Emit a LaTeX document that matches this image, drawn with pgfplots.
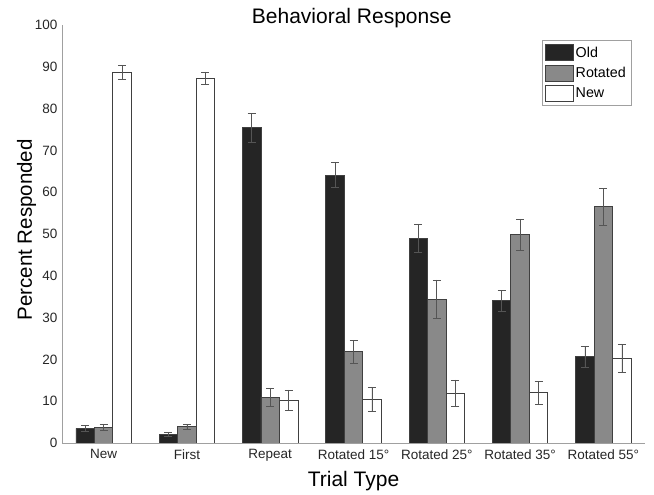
\documentclass[border=0pt]{standalone}
\usepackage{fontspec}
\setmainfont{Liberation Sans}
\usepackage{pgfplots}
\pgfplotsset{compat=1.18}
\definecolor{cold}{HTML}{252525}
\definecolor{crot}{HTML}{898989}
\definecolor{cedge}{HTML}{404040}
\definecolor{cerr}{HTML}{555555}
\definecolor{caxis}{HTML}{A0A0A0}
\begin{document}
\begin{tikzpicture}
\begin{axis}[
  name=ax,
  scale only axis,
  width=583pt, height=418pt,
  xmin=0.5, xmax=7.5, ymin=0, ymax=100,
  axis lines*=left,
  axis line style={caxis, line width=0.8pt},
  xtick={1,...,7},
  xticklabels={New,First,Repeat,Rotated 15°,Rotated 25°,Rotated 35°,Rotated 55°},
  ytick={0,10,...,100},
  major tick length=0pt,
  /pgf/number format/assume math mode=true,
  tick label style={font=\fontsize{13.5}{15}\selectfont, text=black!85},
  xticklabel style={yshift=-3pt},
  yticklabel style={xshift=-1pt},
  xlabel={Trial Type}, ylabel={Percent Responded},
  xlabel style={font=\fontsize{21}{24}\selectfont, at={(axis description cs:0.5,0)}, anchor=base, yshift=-44pt},
  ylabel style={font=\fontsize{20.5}{24}\selectfont, at={(axis description cs:-0.0515,0.51)}, anchor=base, rotate=0},
  title={Behavioral Response},
  title style={font=\fontsize{21}{24}\selectfont, at={(axis description cs:0.497,1)}, anchor=base, yshift=-5pt},
  ybar, bar width=0.222,
  legend style={at={(0.976,0.964)}, anchor=north east, draw=caxis, fill=white,
    font=\fontsize{14.3}{16}\selectfont, row sep=3.5pt, inner sep=3pt, inner ysep=4pt},
  legend cell align=left,
  legend image code/.code={\draw[#1, draw=cedge] (0pt,-8pt) rectangle (28pt,8pt);},
  error bars/y dir=both, error bars/y explicit,
  error bars/error bar style={cerr, line width=0.6pt},
  error bars/error mark options={rotate=90, mark size=4pt, cerr, line width=0.6pt},
]
\addplot[fill=cold, draw=cedge, line width=0.8pt, bar shift=-0.222] coordinates {
 (1,3.5) +- (0,0.8)
 (2,2.1) +- (0,0.5)
 (3,75.4) +- (0,3.5)
 (4,64.1) +- (0,3.0)
 (5,49.0) +- (0,3.4)
 (6,34.0) +- (0,2.6)
 (7,20.6) +- (0,2.6)
};
\addplot[fill=crot, draw=cedge, line width=0.8pt, bar shift=0] coordinates {
 (1,3.7) +- (0,0.7)
 (2,3.9) +- (0,0.6)
 (3,11.0) +- (0,2.2)
 (4,21.8) +- (0,2.8)
 (5,34.4) +- (0,4.6)
 (6,49.8) +- (0,3.8)
 (7,56.5) +- (0,4.5)
};
\addplot[fill=white, draw=cedge, line width=0.8pt, bar shift=0.222] coordinates {
 (1,88.7) +- (0,1.7)
 (2,87.3) +- (0,1.5)
 (3,10.3) +- (0,2.4)
 (4,10.5) +- (0,2.9)
 (5,11.9) +- (0,3.2)
 (6,12.0) +- (0,2.7)
 (7,20.3) +- (0,3.4)
};
\legend{Old,Rotated,New}
\end{axis}
\path ([shift={(-62pt,-51pt)}]ax.south west) rectangle ([shift={(9pt,25pt)}]ax.north east);
\end{tikzpicture}
\end{document}
